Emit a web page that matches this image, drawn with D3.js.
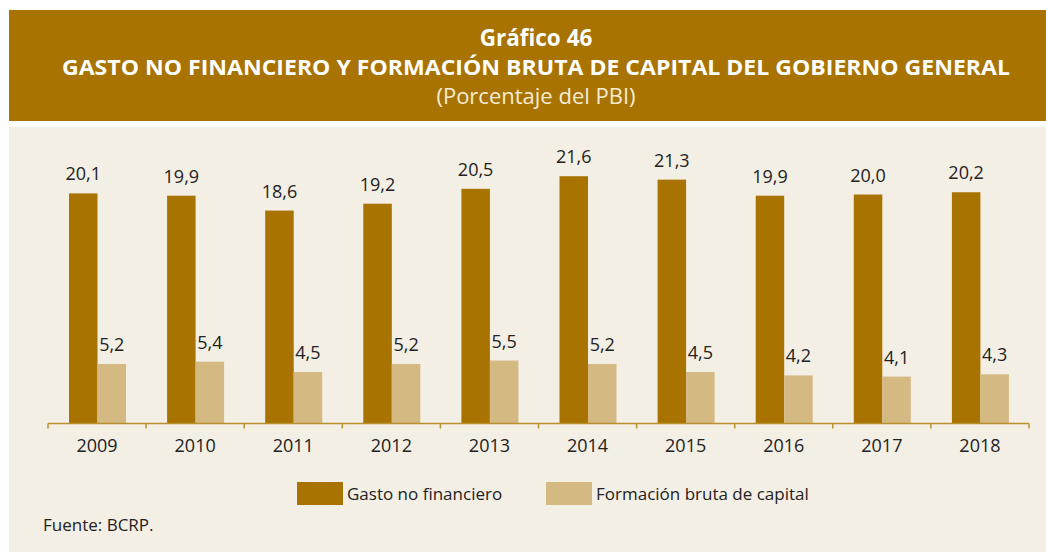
<!DOCTYPE html>
<html>
<head>
<meta charset="utf-8">
<script src="https://cdn.jsdelivr.net/npm/d3@7"></script>
<style>
  body { margin: 0; background: #fff; }
  svg text { font-family: "Open Sans", "Noto Sans", sans-serif; }
</style>
</head>
<body>
<svg id="chart" width="1046" height="554"></svg>
<script>
let years = ["2009", "2010", "2011", "2012", "2013", "2014", "2015", "2016", "2017", "2018"];
let gastoNoFinanciero = [20.1, 19.9, 18.6, 19.2, 20.5, 21.6, 21.3, 19.9, 20.0, 20.2];
let formacionBruta = [5.2, 5.4, 4.5, 5.2, 5.5, 5.2, 4.5, 4.2, 4.1, 4.3];
let seriesNames = ["Gasto no financiero", "Formación bruta de capital"];
let seriesColors = ["#a87300", "#d4b982"];

let svg = d3.select("#chart");

// header band
svg.append("rect").attr("x", 9).attr("y", 10).attr("width", 1037).attr("height", 111).attr("fill", "#a87300");
// chart panel
svg.append("rect").attr("x", 9).attr("y", 127).attr("width", 1037).attr("height", 425).attr("fill", "#f4efe5");

svg.append("text").attr("x", 536).attr("y", 46).attr("text-anchor", "middle")
    .attr("fill", "#fff").attr("font-size", 22.5).attr("font-weight", "bold").text("Gráfico 46");
svg.append("text").attr("x", 536).attr("y", 75).attr("text-anchor", "middle")
    .attr("fill", "#fff").attr("font-size", 20.5).attr("font-weight", "bold")
    .attr("textLength", 948).attr("lengthAdjust", "spacingAndGlyphs")
    .text("GASTO NO FINANCIERO Y FORMACIÓN BRUTA DE CAPITAL DEL GOBIERNO GENERAL");
svg.append("text").attr("x", 536).attr("y", 104).attr("text-anchor", "middle")
    .attr("fill", "#f6ecd6").attr("font-size", 22).text("(Porcentaje del PBI)");

let xScale = d3.scaleBand().domain(years).range([48, 1029]);
let xSub = d3.scaleBand().domain([0, 1]).range([21, 78]);
let yScale = d3.scaleLinear().domain([0, 25]).range([423.5, 137.3]);

let rows = years.map(function (y, i) {
    return { year: y, values: [gastoNoFinanciero[i], formacionBruta[i]] };
});

let groups = svg.selectAll(".year").data(rows).enter().append("g")
    .attr("class", "year")
    .attr("transform", function (d) { return "translate(" + xScale(d.year) + ",0)"; });

groups.selectAll("rect").data(function (d) { return d.values; }).enter().append("rect")
    .attr("x", function (d, i) { return xSub(i); })
    .attr("y", function (d) { return yScale(d); })
    .attr("width", xSub.bandwidth())
    .attr("height", function (d) { return yScale(0) - yScale(d); })
    .attr("fill", function (d, i) { return seriesColors[i]; });

groups.selectAll(".lbl").data(function (d) { return d.values; }).enter().append("text")
    .attr("class", "lbl")
    .attr("x", function (d, i) { return xSub(i) + xSub.bandwidth() / 2; })
    .attr("y", function (d) { return yScale(d) - 13; })
    .attr("text-anchor", "middle")
    .attr("font-size", 18)
    .attr("fill", "#222")
    .text(function (d) { return d.toFixed(1).replace(".", ","); });

// axis line with ticks at the band edges
let axisColor = "#b8902e";
svg.append("line").attr("x1", 48).attr("x2", 1029).attr("y1", yScale(0)).attr("y2", yScale(0))
    .attr("stroke", axisColor).attr("stroke-width", 1.5);
let edges = years.map(function (y) { return xScale(y); }).concat([xScale.range()[1]]);
svg.selectAll(".tick").data(edges).enter().append("line")
    .attr("x1", function (d) { return d; }).attr("x2", function (d) { return d; })
    .attr("y1", yScale(0)).attr("y2", yScale(0) + 5)
    .attr("stroke", axisColor).attr("stroke-width", 1.5);

svg.selectAll(".yr").data(years).enter().append("text")
    .attr("x", function (d) { return xScale(d) + xScale.bandwidth() / 2; })
    .attr("y", 452)
    .attr("text-anchor", "middle")
    .attr("font-size", 18)
    .attr("fill", "#222")
    .text(function (d) { return d; });

// legend
let legendX = [297, 546];
seriesNames.forEach(function (name, i) {
    svg.append("rect").attr("x", legendX[i]).attr("y", 482).attr("width", 46).attr("height", 23)
        .attr("fill", seriesColors[i]);
    svg.append("text").attr("x", legendX[i] + 50).attr("y", 500)
        .attr("font-size", 17).attr("fill", "#222").text(name);
});

svg.append("text").attr("x", 43).attr("y", 531).attr("font-size", 17).attr("fill", "#222").text("Fuente: BCRP.");
</script>
</body>
</html>
